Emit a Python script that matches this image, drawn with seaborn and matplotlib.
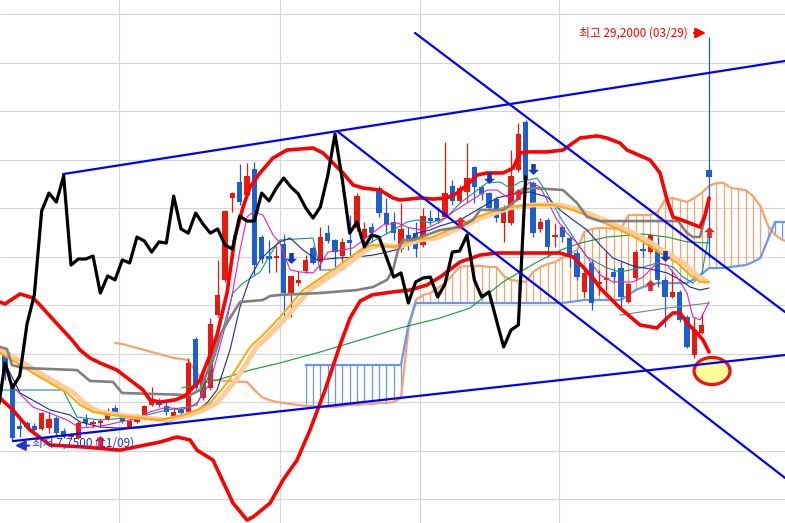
import matplotlib
matplotlib.use("Agg")
import matplotlib.pyplot as plt
import seaborn as sns
import numpy as np
from matplotlib.path import Path
from matplotlib.patches import Ellipse

sns.set_style("white")
plt.rcParams['font.family'] = ['Noto Sans CJK KR', 'DejaVu Sans']

# ---------------- candle data (price, thousands) ----------------
opens = [12.27, 10.62, 8.49, 8.65, 8.49, 8.33, 8.39, 8.92, 8.23, 7.91,
         7.86, 8.87, 8.60, 8.65, 8.87, 9.45, 9.03, 8.44, 8.71, 8.92,
         9.61, 9.77, 9.56, 9.03, 9.40, 9.24, 13.12, 9.98, 10.52, 14.40,
         16.27, 20.63, 21.48, 20.79, 22.17, 18.55, 17.54, 17.43, 18.18, 15.57,
         16.10, 16.74, 17.97, 17.22, 18.76, 18.39, 17.54, 18.39, 19.03, 18.50,
         19.08, 21.16, 19.83, 19.35, 17.91, 18.66, 18.76, 18.13, 19.56, 19.56,
         19.62, 21.27, 20.47, 20.95, 22.28, 21.21, 20.89, 20.57, 19.30, 19.30,
         22.12, 24.67, 21.43, 18.98, 19.46, 18.55, 19.08, 18.50, 17.70, 15.63,
         17.17, 16.05, 16.27, 16.69, 16.90, 15.09, 16.37, 17.91, 17.75, 17.97,
         16.27, 15.36, 15.63, 14.29, 12.27, 13.44, 22.12]
highs = [12.70, 10.78, 8.81, 8.76, 8.65, 9.24, 9.24, 9.03, 8.39, 8.12,
         8.76, 9.13, 8.81, 8.92, 9.45, 9.61, 9.18, 8.92, 9.13, 9.61,
         10.57, 9.98, 9.77, 9.50, 9.50, 12.11, 13.23, 11.47, 14.24, 17.33,
         19.99, 20.95, 22.44, 22.49, 22.54, 18.66, 18.39, 18.07, 18.71, 16.50,
         16.74, 17.59, 18.07, 19.08, 19.19, 18.42, 18.50, 19.72, 20.89, 19.35,
         19.30, 21.27, 20.63, 19.88, 20.36, 19.08, 19.35, 20.10, 19.99, 20.15,
         23.61, 21.59, 21.32, 23.55, 22.33, 21.32, 20.95, 20.68, 20.26, 23.18,
         24.62, 24.78, 21.53, 19.56, 19.56, 19.30, 19.19, 18.61, 17.86, 16.80,
         17.33, 16.80, 17.75, 16.96, 17.22, 16.10, 17.86, 18.55, 18.76, 18.55,
         16.42, 16.80, 15.73, 14.40, 14.29, 14.51, 29.20]
lows = [10.94, 7.75, 7.91, 8.33, 8.07, 8.28, 8.12, 8.02, 7.86, 7.80,
        7.80, 8.49, 8.44, 8.44, 8.81, 9.08, 8.65, 8.39, 8.65, 8.81,
        9.56, 9.50, 9.08, 8.92, 8.97, 9.18, 10.41, 9.88, 10.41, 14.29,
        16.16, 19.88, 20.26, 20.68, 16.53, 17.17, 16.64, 16.69, 14.29, 14.29,
        15.94, 16.64, 17.11, 16.80, 18.23, 16.69, 17.22, 17.43, 18.87, 17.97,
        18.29, 19.62, 18.76, 18.39, 17.75, 17.86, 17.49, 18.02, 19.19, 19.30,
        19.56, 20.26, 20.36, 20.41, 20.36, 20.52, 19.99, 19.35, 18.29, 19.19,
        22.01, 21.48, 18.55, 18.82, 17.49, 18.02, 18.29, 16.96, 16.27, 15.36,
        14.67, 15.47, 15.73, 16.10, 14.83, 15.04, 16.27, 17.49, 17.70, 15.89,
        13.76, 15.31, 14.03, 12.64, 12.11, 13.39, 17.43]
closes = [11.37, 7.86, 8.33, 8.44, 8.28, 9.18, 8.87, 8.12, 7.91, 8.02,
          8.65, 8.65, 8.71, 8.76, 9.29, 9.18, 8.76, 8.76, 9.03, 9.56,
          9.82, 9.61, 9.24, 9.24, 9.18, 11.85, 10.52, 11.15, 13.92, 15.47,
          19.94, 20.89, 20.41, 21.80, 17.06, 17.38, 17.38, 17.54, 15.57, 16.48,
          16.27, 17.33, 17.17, 18.55, 18.34, 17.75, 18.29, 18.23, 20.73, 18.98,
          18.76, 19.83, 19.24, 18.76, 18.98, 18.13, 17.91, 19.67, 19.40, 19.40,
          20.89, 20.47, 21.16, 21.69, 21.21, 20.84, 20.10, 19.56, 20.15, 21.80,
          24.03, 21.59, 18.76, 19.35, 18.02, 18.66, 18.55, 17.49, 16.42, 16.64,
          15.04, 16.16, 16.37, 16.42, 15.36, 16.05, 17.75, 17.81, 18.66, 16.27,
          15.36, 15.63, 14.14, 12.70, 13.60, 13.87, 21.75]
lag_shift = 25  # lagging (chikou) line: close plotted 25 bars back
lag_first = 24  # first close visible in the lagging line

# ---------------- indicator lines ----------------
bb_up_x = [-0.68, 0, 2.05, 3.82, 4.77, 7.5, 9.14, 10.23, 11.59, 12.95, 15.27, 17.05, 18.82, 19.77, 21.14,
           23.18, 24.55, 26.59, 27.96, 28.91, 30.27, 31.36, 32.46, 33.41, 34.77, 36.55, 38.46, 42.0, 43.37,
           44.73, 46.09, 47.46, 48.82, 51.14, 52.91, 53.87, 56.59, 58.37, 60.27, 61.64, 63.0, 64.37, 65.73,
           67.91, 69.28, 70.23, 71.19, 73.91, 76.09, 78.41, 80.73, 82.09, 83.87, 84.82, 87.96, 89.32, 90.28,
           91.09, 93.0, 94.77, 95.46, 96.0]
bb_up_y = [15.09, 14.99, 15.52, 15.31, 14.93, 13.76, 13.07, 12.54, 12.11, 11.85, 11.47, 10.94, 10.41, 9.88, 9.77,
           9.88, 10.09, 10.94, 12.27, 13.34, 15.57, 18.55, 20.15, 21.21, 21.96, 22.76, 23.18, 23.29, 23.02,
           22.49, 21.96, 21.32, 21.16, 21.05, 20.63, 20.52, 20.63, 20.57, 20.63, 20.89, 21.32, 21.85, 21.96,
           21.96, 22.22, 23.02, 23.08, 23.08, 23.18, 23.82, 23.93, 23.82, 23.55, 23.18, 22.65, 21.96, 20.52,
           19.62, 19.35, 19.08, 19.72, 20.63]
bb_lo_x = [-0.68, 1.09, 3.41, 6.14, 10.64, 15.68, 21.14, 23.46, 25.23, 26.18, 28.36, 31.09, 33.0, 33.82, 36.14,
           37.91, 39.82, 41.59, 43.64, 45.68, 47.05, 48.41, 50.05, 52.91, 55.23, 57.55, 59.32, 62.05, 64.78,
           67.09, 70.23, 75.68, 77.46, 78.82, 80.18, 81.14, 83.87, 86.59, 88.91, 90.28, 91.09, 92.05, 93.0,
           94.36, 95.18, 96.0]
bb_lo_y = [9.98, 9.34, 8.28, 7.48, 7.38, 7.21, 7.64, 7.91, 7.75, 7.21, 6.68, 4.39, 3.49, 3.65, 4.39,
           5.62, 6.68, 8.28, 10.41, 12.80, 14.24, 15.14, 15.47, 15.63, 15.73, 16.00, 16.42, 17.22, 17.59,
           17.70, 17.70, 17.70, 17.49, 16.96, 16.37, 15.84, 14.77, 13.87, 13.71, 14.24, 14.51, 14.51, 13.98,
           13.44, 13.07, 12.43]
base_x = [-0.68, 0.27, 0.95, 2.45, 9.82, 11.59, 14.73, 15.95, 25.23, 26.59, 27.96, 29.32, 30.68, 32.05, 35.18,
          36.14, 37.5, 42.96, 48.0, 50.18, 52.09, 52.91, 53.59, 54.27, 55.64, 59.32, 62.05, 63.82, 64.78,
          67.91, 69.82, 70.64, 72.0, 76.09, 78.0, 79.37, 81.14, 91.78, 93.0, 93.82, 94.77, 95.46, 96.0]
base_y = [12.70, 12.59, 11.74, 11.58, 11.47, 10.89, 10.84, 10.25, 10.14, 10.41, 11.74, 13.34, 14.24, 15.09, 15.20,
          15.41, 15.47, 15.57, 15.73, 15.89, 16.27, 16.80, 17.86, 18.39, 18.39, 18.92, 19.08, 19.46, 19.99,
          19.99, 20.52, 21.05, 21.16, 21.05, 20.36, 19.62, 19.40, 19.40, 18.76, 18.55, 18.55, 19.62, 20.52]
ma_or_x = [-0.68, 2.05, 3.82, 6.14, 8.46, 10.23, 12.0, 14.73, 18.41, 21.14, 24.27, 26.18, 27.96, 30.27, 32.05,
           33.41, 35.18, 37.5, 40.64, 45.27, 48.82, 50.18, 52.91, 55.64, 57.96, 61.09, 64.37, 67.91, 71.19,
           74.73, 77.46, 80.18, 83.87, 86.59, 89.32, 91.64, 93.41, 94.77, 96.0]
ma_or_y = [12.38, 11.74, 11.31, 10.78, 10.25, 9.61, 9.24, 9.08, 8.92, 8.81, 9.08, 9.35, 9.72, 10.78, 11.85,
           12.70, 13.34, 14.29, 15.73, 16.96, 17.97, 18.13, 18.02, 18.39, 18.50, 19.03, 19.62, 20.10, 20.26,
           20.26, 19.99, 19.56, 18.92, 18.39, 17.70, 17.17, 16.53, 16.16, 16.16]
ma_pe_x = [-0.68, 0.2, 2.95, 4.72, 7.04, 9.36, 11.13, 12.9, 15.63, 19.31, 22.04, 25.17, 27.08, 28.86, 31.17,
           32.95, 34.31, 36.08, 38.4, 41.54, 46.17, 49.72, 51.08, 53.81, 56.54, 58.86, 61.99, 65.27, 68.81,
           72.09, 75.63, 78.36, 81.08, 84.77, 87.49, 90.22, 92.54, 94.31, 95.67]
ma_pe_y = [12.50, 12.38, 11.74, 11.31, 10.78, 10.25, 9.61, 9.24, 9.08, 8.92, 8.81, 9.08, 9.35, 9.72, 10.78,
           11.85, 12.70, 13.34, 14.29, 15.73, 16.96, 17.97, 18.13, 18.02, 18.39, 18.50, 19.03, 19.62, 20.10,
           20.26, 20.26, 19.99, 19.56, 18.92, 18.39, 17.70, 17.17, 16.53, 16.16]
ma5_x = [0, 1.09, 3.82, 6.14, 8.46, 10.23, 12.0, 13.91, 15.68, 18.41, 19.77, 22.09, 23.86, 25.23, 26.18,
         27.96, 28.91, 30.27, 31.09, 32.05, 33.0, 33.82, 35.18, 36.55, 37.5, 38.87, 40.23, 42.0, 42.96, 44.05,
         46.09, 47.46, 49.77, 51.55, 53.46, 55.23, 57.0, 59.32, 61.09, 63.0, 65.73, 67.09, 68.46, 69.82, 71.59,
         72.96, 73.91, 75.27, 76.64, 78.0, 79.37, 81.14, 82.91, 85.64, 87.0, 88.91, 90.28, 91.64, 93.0, 93.82,
         94.77, 96.0]
ma5_y = [11.58, 10.57, 9.50, 9.18, 8.81, 8.39, 8.44, 8.55, 8.71, 8.92, 9.24, 9.50, 9.35, 9.50, 9.72,
         10.78, 12.17, 14.14, 15.73, 17.86, 19.62, 19.88, 19.72, 18.66, 18.23, 16.80, 16.69, 16.64, 17.06, 17.75,
         17.86, 17.97, 18.66, 19.19, 19.30, 19.03, 18.92, 19.35, 19.88, 20.36, 21.05, 21.05, 20.68, 20.89, 21.48,
         21.21, 20.52, 19.46, 18.76, 18.23, 17.49, 16.53, 16.16, 16.16, 16.42, 17.17, 17.06, 16.42, 15.57, 14.29,
         14.14, 15.09]
ma10_x = [0, 2.05, 6.14, 8.86, 10.23, 12.95, 15.27, 18.41, 21.14, 23.86, 25.64, 27.55, 28.91, 30.68, 32.05,
          33.41, 34.77, 36.14, 37.5, 38.87, 40.64, 42.55, 45.27, 48.0, 50.18, 52.09, 54.27, 56.18, 57.96, 59.32,
          62.05, 64.37, 67.09, 69.82, 71.59, 73.91, 75.68, 77.46, 79.37, 81.14, 82.91, 85.64, 87.96, 90.28, 92.05,
          93.41, 94.77, 96.0]
ma10_y = [11.85, 10.25, 9.35, 9.08, 8.71, 8.44, 8.39, 8.39, 8.55, 8.92, 9.18, 9.72, 10.41, 12.54, 14.83,
          16.37, 17.33, 17.86, 18.29, 18.50, 17.86, 17.33, 17.43, 17.49, 17.59, 17.75, 17.97, 18.76, 18.92, 19.14,
          19.46, 19.99, 20.63, 20.89, 20.95, 20.68, 19.99, 19.46, 18.92, 18.13, 17.43, 17.01, 16.85, 16.64, 16.27,
          15.89, 15.73, 15.84]
tenkan_x = [-0.68, 7.91, 9.82, 12.95, 16.64, 19.36, 22.09, 24.82, 26.18, 27.55, 28.91, 31.09, 32.46, 34.77,
            36.55, 37.5, 42.0, 42.96, 46.09, 48.0, 49.77, 52.91, 54.82, 56.18, 57.96, 59.32, 60.27, 62.05, 65.73,
            67.5, 68.86, 70.23, 72.55, 73.91, 75.68, 78.0, 79.37, 82.09, 83.87, 86.59, 88.91, 91.09, 92.46, 93.82,
            95.05, 96.0]
tenkan_y = [10.41, 10.41, 8.97, 8.81, 8.92, 9.08, 9.35, 9.50, 9.61, 10.94, 12.54, 15.57, 16.10, 16.69,
            17.86, 18.39, 18.50, 16.80, 16.80, 17.59, 18.23, 18.92, 19.35, 19.46, 19.30, 19.46, 19.62, 20.36, 21.43,
            21.48, 21.16, 21.48, 21.69, 20.89, 19.62, 18.23, 17.49, 16.90, 16.69, 16.90, 17.17, 16.96, 16.42, 16.10,
            16.64, 18.76]
ma60_x = [24.14, 28.91, 33.41, 37.5, 42.96, 48.41, 53.87, 59.32, 63.41, 67.91, 72.55, 76.09, 78.41, 82.09,
          87.0, 90.28, 93.0, 96.0]
ma60_y = [10.52, 10.94, 11.47, 11.85, 12.43, 13.07, 13.71, 14.24, 14.77, 16.16, 17.22, 17.91, 18.23, 18.55,
          18.71, 18.55, 18.29, 18.23]
ma_gray_x = [83.87, 90.28, 96.0]
ma_gray_y = [14.40, 14.77, 15.04]

span_a_start = 15
span_a = [12.91, 12.86, 12.75, 12.64, 12.54, 12.43, 12.33, 12.22, 12.11, 12.06,
          12.01, 11.37, 10.94, 10.94, 10.94, 10.89, 10.89, 10.84, 10.84, 10.41,
          10.04, 9.88, 9.77, 9.72, 9.66, 9.61, 9.56, 9.56, 9.50, 9.50,
          9.50, 9.56, 9.61, 9.61, 9.66, 9.66, 9.72, 9.72, 9.77, 9.98,
          13.60, 15.20, 15.47, 15.57, 15.84, 16.10, 16.53, 16.96, 17.01, 17.01,
          17.01, 16.96, 16.96, 16.48, 16.27, 16.21, 16.16, 16.69, 16.96, 17.11,
          17.22, 17.43, 17.65, 17.86, 18.82, 18.98, 19.03, 19.03, 18.98, 18.98,
          19.72, 19.72, 19.72, 19.72, 19.88, 20.52, 20.63, 20.52, 20.41, 20.63,
          20.89, 21.27, 21.43, 21.43, 21.16, 21.11, 21.05, 20.73, 20.20, 19.19,
          18.66, 18.39, 18.29]
span_b_start = 41
span_b = [11.74, 11.74, 11.74, 11.74, 11.74, 11.74, 11.74, 11.74, 11.74, 11.74,
          11.74, 11.74, 11.74, 11.74, 13.87, 15.04, 15.04, 15.04, 15.04, 15.04,
          15.04, 15.04, 15.04, 15.04, 15.04, 15.04, 15.04, 15.04, 15.04, 15.04,
          15.04, 15.04, 15.04, 15.04, 15.04, 15.04, 15.09, 15.14, 15.20, 15.20,
          15.20, 15.20, 15.20, 15.20, 15.47, 15.73, 15.89, 16.00, 16.10, 16.10,
          16.10, 16.10, 16.10, 16.32, 16.58, 16.90, 16.90, 16.90, 16.96, 17.01,
          17.06, 17.22, 17.43, 18.39, 19.35, 19.35, 19.35]

# trend lines (end points)
trend_x = [[7.91, 106.36], [1.09, 106.36], [45.27, 106.36], [55.91, 106.36]]
trend_y = [[21.90, 27.92], [7.69, 12.27], [24.19, 5.73], [29.41, 14.56]]

# signal arrows
buy_x = [12.95, 62, 70, 88, 96]
buy_y = [7.69, 19.35, 20.84, 15.99, 18.82]
sell_x = [39, 66, 72, 90]
sell_y = [17.43, 21.69, 22.17, 17.54]

# grid
month_breaks = [15.58, 37.54, 56.63, 75.59]
grid_levels = [30.40, 27.82, 25.24, 22.66, 20.08, 17.50, 14.92, 12.34, 9.76, 7.18, 4.60]

high_label = "최고 29,2000 (03/29)"
low_label = "최저 7,7500 (11/09)"

# ---------------- drawing ----------------
fig = plt.figure(figsize=(7.85, 5.23), dpi=100)
ax = fig.add_axes([0, 0, 1, 1])

RED = '#E8190F'
BLUE = '#1E5FD0'

def line(xs, ys, color, lw, z):
    sns.lineplot(x=xs, y=ys, ax=ax, color=color, linewidth=lw, sort=False,
                 estimator=None, zorder=z, legend=False)

# ichimoku cloud
a_arr = np.array(span_a)
b_arr = np.array(span_b)
a_idx = np.arange(span_a_start, span_a_start + len(span_a))
b_idx = np.arange(span_b_start, span_b_start + len(span_b))
a_on_b = a_arr[span_b_start - span_a_start:]
hcol = np.where(a_on_b >= b_arr, '#F5A46E', '#6D97EE')
ax.vlines(b_idx, np.minimum(a_on_b, b_arr), np.maximum(a_on_b, b_arr), colors=hcol, lw=0.9, zorder=1.5)
line(a_idx, span_a, '#F5A46E', 1.6, 2)
line(b_idx, span_b, '#6D97EE', 1.6, 2)

# candles
o = np.array(opens); h = np.array(highs); l = np.array(lows); c = np.array(closes)
idx = np.arange(len(o))
cols = np.where(c >= o, RED, BLUE)
ax.vlines(idx, l, h, colors=cols, lw=0.9, zorder=3)
ax.bar(idx, np.maximum(np.abs(c - o), 0.07), bottom=np.minimum(o, c), width=0.7,
       color=cols, linewidth=0, zorder=3.2)

# moving averages
line(ma60_x, ma60_y, '#139A3A', 0.8, 4)
line(ma_gray_x, ma_gray_y, '#808080', 0.8, 4)
line(tenkan_x, tenkan_y, '#10968A', 0.8, 4)
line(ma10_x, ma10_y, '#1A2A9E', 0.8, 4)
line(ma5_x, ma5_y, '#E020C8', 0.8, 4)
line(ma_pe_x, ma_pe_y, '#FFCB98', 3.6, 4.5)
line(ma_or_x, ma_or_y, '#FFA800', 1.4, 4.6)
line(base_x, base_y, '#808080', 1.9, 4.8)

# bollinger bands
line(bb_up_x, bb_up_y, '#FF0000', 2.6, 5)
line(bb_lo_x, bb_lo_y, '#FF0000', 2.6, 5)

# lagging line
lag_x = idx[lag_first:] - lag_shift
line(lag_x, c[lag_first:], '#000000', 2.3, 6)

# highlight ellipse
ax.add_patch(Ellipse((96.41, 11.42), width=4.9, height=1.44, facecolor='#FFFF99',
                     edgecolor='#EE1111', lw=2.3, zorder=6.5))

# trend lines
for tx, ty in zip(trend_x, trend_y):
    line(tx, ty, '#0000FF', 1.6, 7)

# signal arrows
up_path = Path([(0, 1), (1, 0.05), (0.42, 0.05), (0.42, -1), (-0.42, -1), (-0.42, 0.05), (-1, 0.05), (0, 1)],
               [Path.MOVETO] + [Path.LINETO] * 6 + [Path.CLOSEPOLY])
dn_path = Path([(0, -1), (1, -0.05), (0.42, -0.05), (0.42, 1), (-0.42, 1), (-0.42, -0.05), (-1, -0.05), (0, -1)],
               [Path.MOVETO] + [Path.LINETO] * 6 + [Path.CLOSEPOLY])
ax.scatter(buy_x, buy_y, marker=up_path, s=62, color='#E8202A', linewidths=0, zorder=8)
ax.scatter(sell_x, sell_y, marker=dn_path, s=62, color='#1438B8', linewidths=0, zorder=8)

# annotations
ax.text(93.14, 29.41, high_label, color='#FF0000', fontsize=8.5, ha='right', va='center', zorder=10)
ax.annotate('', xy=(95.95, 29.41), xytext=(93.55, 29.41),
            arrowprops=dict(arrowstyle='-|>,head_length=0.6,head_width=0.3', color='#FF0000', lw=1.5),
            zorder=10)
ax.text(3.68, 7.59, low_label, color='#2233CC', fontsize=8.5, ha='left', va='center', zorder=10)
ax.annotate('', xy=(1.0, 7.45), xytext=(3.7, 7.45),
            arrowprops=dict(arrowstyle='-|>,head_length=0.6,head_width=0.3', color='#2233CC', lw=1.5),
            zorder=10)

# axes styling
ax.set_xlim(-0.682, 106.36)
ax.set_ylim(3.331, 31.165)
ax.set_xticks(month_breaks)
ax.set_yticks(grid_levels)
ax.grid(True, color='#D6D6D6', lw=0.8)
ax.set_axisbelow(True)
ax.tick_params(length=0, labelbottom=False, labelleft=False)
ax.set_xlabel('')
ax.set_ylabel('')
for s in ax.spines.values():
    s.set_visible(False)

fig.savefig('out.png', dpi=100)
